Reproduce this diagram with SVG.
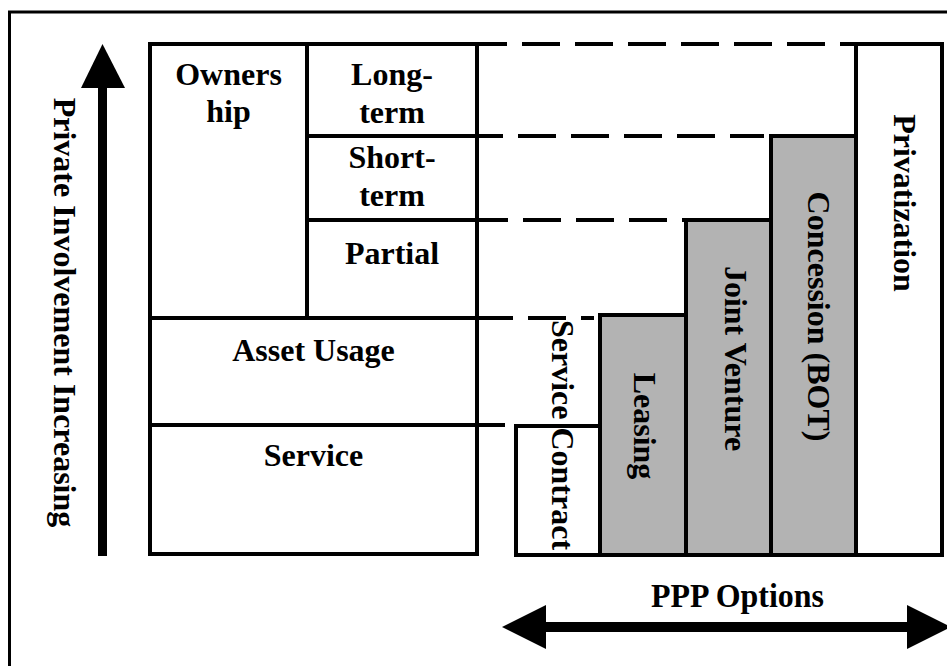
<svg xmlns="http://www.w3.org/2000/svg" width="947" height="666" viewBox="0 0 947 666">
  <style>
    .box { fill: #ffffff; stroke: #000000; stroke-width: 4; }
    .shade { fill: #b3b3b3; stroke: #000000; stroke-width: 4; }
    .lbl { font-family: "Liberation Serif", "Times New Roman", serif; font-weight: bold; font-size: 32px; fill: #000000; text-anchor: middle; }
    .dash { fill: none; stroke: #000000; stroke-width: 4; stroke-dasharray: 38 15; }
    .solid { fill: none; stroke: #000000; stroke-width: 4; }
  </style>

  <rect width="947" height="666" fill="#ffffff"/>

  <!-- outer frame (left and top edges) -->
  <path d="M9.5,667 V12 H948" fill="none" stroke="#000000" stroke-width="3"/>

  <!-- vertical axis arrow -->
  <g id="axis-private">
    <rect x="98" y="86" width="9" height="470" fill="#000000"/>
    <polygon points="81,88 102.5,44 125,88" fill="#000000"/>
    <text class="lbl" transform="translate(54,312.5) rotate(90)" x="0" y="0">Private Involvement Increasing</text>
  </g>

  <!-- horizontal axis arrow -->
  <g id="axis-ppp">
    <rect x="544" y="622" width="365" height="10" fill="#000000"/>
    <polygon points="502,627 546,605 546,649" fill="#000000"/>
    <polygon points="951,627 907,605 907,649" fill="#000000"/>
    <text class="lbl" x="737.5" y="607" font-size="33" textLength="173" lengthAdjust="spacingAndGlyphs" style="font-size:33px">PPP Options</text>
  </g>

  <!-- left grid of involvement categories -->
  <g id="ownership">
    <rect class="box" x="150" y="44" width="157" height="274"/>
    <text class="lbl" x="228.5" y="85">Owners</text>
    <text class="lbl" x="228.5" y="122">hip</text>
  </g>
  <g id="long-term">
    <rect class="box" x="307" y="44" width="170" height="92"/>
    <text class="lbl" x="392" y="85">Long-</text>
    <text class="lbl" x="392" y="123">term</text>
  </g>
  <g id="short-term">
    <rect class="box" x="307" y="136" width="170" height="84"/>
    <text class="lbl" x="392" y="168">Short-</text>
    <text class="lbl" x="392" y="206">term</text>
  </g>
  <g id="partial">
    <rect class="box" x="307" y="220" width="170" height="98"/>
    <text class="lbl" x="392" y="264">Partial</text>
  </g>
  <g id="asset-usage">
    <rect class="box" x="150" y="318" width="327" height="107"/>
    <text class="lbl" x="313.5" y="361">Asset Usage</text>
  </g>
  <g id="service">
    <rect class="box" x="150" y="425" width="327" height="129"/>
    <text class="lbl" x="313.5" y="466">Service</text>
  </g>

  <!-- dashed level guides -->
  <g id="connectors">
    <path class="dash" d="M477,44 H856" style="stroke-dashoffset:8"/>
    <path class="dash" d="M477,136 H764" style="stroke-dashoffset:12"/>
    <path class="dash" d="M477,220 H684" style="stroke-dashoffset:7"/>
    <path class="dash" d="M477,318 H594" style="stroke-dashoffset:2"/>
    <path class="solid" d="M477,425 H505"/>
  </g>

  <!-- PPP option steps -->
  <g id="service-contract">
    <rect class="box" x="516" y="426" width="84" height="129"/>
    <text class="lbl" transform="translate(552,435) rotate(90)" x="0" y="0">Service Contract</text>
  </g>
  <g id="leasing">
    <rect class="shade" x="600" y="315" width="86" height="240"/>
    <text class="lbl" transform="translate(634,426) rotate(90)" x="0" y="0">Leasing</text>
  </g>
  <g id="joint-venture">
    <rect class="shade" x="686" y="220" width="85" height="335"/>
    <text class="lbl" transform="translate(725,358.5) rotate(90)" x="0" y="0">Joint Venture</text>
  </g>
  <g id="concession">
    <rect class="shade" x="771" y="136" width="85" height="419"/>
    <text class="lbl" transform="translate(808,316.5) rotate(90)" x="0" y="0">Concession (BOT)</text>
  </g>
  <g id="privatization">
    <rect class="box" x="856" y="44" width="86" height="511"/>
    <text class="lbl" transform="translate(894,203) rotate(90)" x="0" y="0">Privatization</text>
  </g>
</svg>
